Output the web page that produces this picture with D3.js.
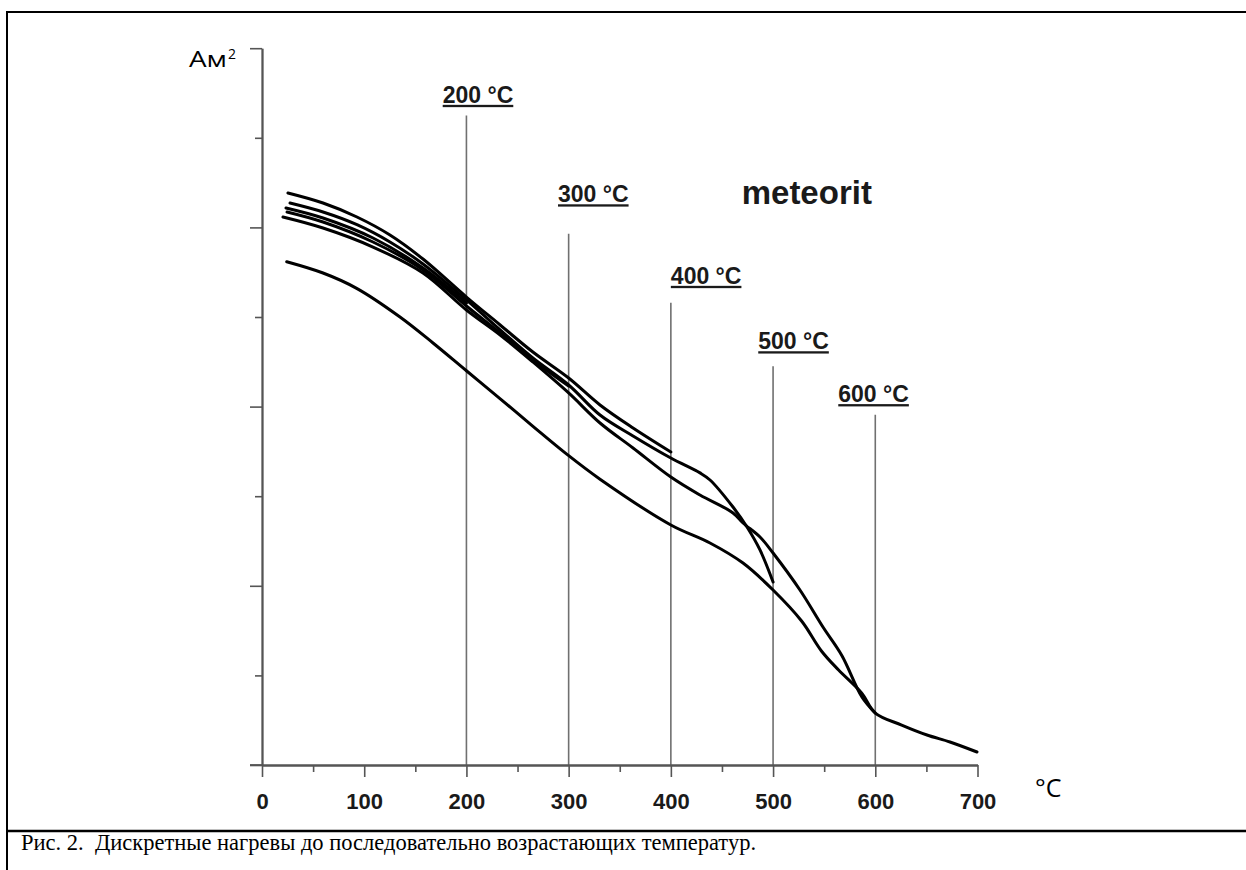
<!DOCTYPE html>
<html>
<head>
<meta charset="utf-8">
<script src="https://cdn.jsdelivr.net/npm/d3@7"></script>
<style>
  html, body { margin: 0; padding: 0; background: #fff; }
  svg { display: block; }
</style>
</head>
<body>
<svg id="chart"></svg>
<script>
// discrete heating curves, magnetisation vs temperature
// x = °C, y = axis units (8 tick steps, no numbers on the axis)

const xMajor = [0, 100, 200, 300, 400, 500, 600, 700];
const xMinor = [50, 150, 250, 350, 450, 550, 650];
const yMajor = [0, 2, 4, 6, 8];
const yMinor = [1, 3, 5, 7];

// heating steps: marker line, where it stops at the top, label anchor (left, baseline)
const marks      = [200, 300, 400, 500, 600];
const markTop    = [7.25, 5.93, 5.16, 4.45, 3.91];
const markLabelX = [176.8, 289.6, 400, 485.5, 563.8];
const markLabelY = [7.39, 6.28, 5.37, 4.64, 4.05];

// [temperature, value]
const run200 = [[23.5,6.217],[59.7,6.105],[108.6,5.882],[157.5,5.547],[200,5.156]];
const run300 = [[24.5,6.172],[59.7,6.060],[108.6,5.837],[157.5,5.525],[200,5.123],
                [233,4.821],[265,4.520],[300,4.230]];
const run400 = [[25.4,6.384],[59.7,6.272],[92.9,6.116],[125.2,5.915],[157.5,5.647],
                [200,5.223],[233,4.911],[265,4.609],[300,4.319],[330.7,4.018],
                [363,3.761],[400,3.493]];
const run500 = [[27.4,6.272],[59.7,6.172],[92.9,6.030],[125.2,5.837],[157.5,5.592],
                [200,5.190],[233,4.855],[265,4.542],[300,4.241],[330.7,3.906],
                [363,3.672],[400,3.426],[428.5,3.260],[438.3,3.181],[460.8,2.879],
                [474.5,2.656],[487.2,2.400],[500,2.042]];
const run600 = [[20.5,6.116],[59.7,5.993],[108.6,5.781],[157.5,5.491],[200,5.078],
                [233,4.799],[265,4.498],[300,4.152],[330.7,3.817],[363,3.538],
                [400,3.214],[428.5,3.013],[460.8,2.813],[470.6,2.701],[487.2,2.545],
                [500,2.366],[526.3,1.953],[548.8,1.540],[567.4,1.220],[586.9,0.760],
                [600,0.580]];
const run700 = [[24.2,5.617],[59.7,5.491],[92.6,5.320],[135,5.000],[167.3,4.710],
                [200,4.400],[232.8,4.090],[265.1,3.780],[298.1,3.470],[330.7,3.190],
                [400,2.679],[438.3,2.478],[470.6,2.254],[500,1.953],[527.9,1.607],
                [547.5,1.270],[564.1,1.060],[586.6,0.804],[600,0.580],[625.8,0.446],
                [650.6,0.335],[673.1,0.257],[699.5,0.145]];
const runs = [run200, run300, run400, run500, run600, run700];

const W = 1246, H = 870;
const svg = d3.select('#chart').attr('width', W).attr('height', H);

const x = d3.scaleLinear().domain([0, 700]).range([262, 977.5]);
const y = d3.scaleLinear().domain([0, 8]).range([765, 48.2]);

// ── frame ────────────────────────────────────────────────────────────────
svg.append('line').attr('x1', 6).attr('x2', W).attr('y1', 12).attr('y2', 12)
    .attr('stroke', '#000').attr('stroke-width', 2.2);
svg.append('line').attr('x1', 7).attr('x2', 7).attr('y1', 11).attr('y2', H)
    .attr('stroke', '#000').attr('stroke-width', 2);
svg.append('line').attr('x1', 6).attr('x2', W).attr('y1', 831).attr('y2', 831)
    .attr('stroke', '#000').attr('stroke-width', 2.4);

// ── heating step markers ─────────────────────────────────────────────────
svg.selectAll('.mark')
    .data(marks)
    .join('line')
    .attr('class', 'mark')
    .attr('x1', d => x(d)).attr('x2', d => x(d))
    .attr('y1', (d, i) => y(markTop[i])).attr('y2', y(0))
    .attr('stroke', '#707070').attr('stroke-width', 1.6);

svg.selectAll('.mark-label')
    .data(marks)
    .join('text')
    .attr('class', 'mark-label')
    .attr('x', (d, i) => x(markLabelX[i]))
    .attr('y', (d, i) => y(markLabelY[i]))
    .attr('font-family', 'Liberation Sans, Arial, sans-serif')
    .attr('font-weight', 'bold')
    .attr('font-size', '23px')
    .attr('fill', '#1a1a1a')
    .style('text-decoration', 'underline')
    .text(d => `${d} °C`);

// ── axes ─────────────────────────────────────────────────────────────────
function styleAxis(g) {
    g.select('.domain').attr('stroke', '#555').attr('stroke-width', 1.8);
    g.selectAll('.tick line').attr('stroke', '#555').attr('stroke-width', 1.6);
}

svg.append('g')
    .attr('transform', `translate(0,${y(0)})`)
    .call(d3.axisBottom(x).tickValues(xMinor).tickSize(7).tickSizeOuter(0).tickFormat(''))
    .call(styleAxis);

svg.append('g')
    .attr('transform', `translate(0,${y(0)})`)
    .call(d3.axisBottom(x).tickValues(xMajor).tickSize(12).tickSizeOuter(0).tickPadding(16))
    .call(styleAxis)
    .call(g => g.selectAll('.tick text')
        .attr('font-family', 'Liberation Sans, Arial, sans-serif')
        .attr('font-weight', 'bold')
        .attr('font-size', '22px')
        .attr('fill', '#1a1a1a'));

svg.append('g')
    .attr('transform', `translate(${x(0)},0)`)
    .call(d3.axisLeft(y).tickValues(yMinor).tickSize(7).tickSizeOuter(0).tickFormat(''))
    .call(styleAxis);

svg.append('g')
    .attr('transform', `translate(${x(0)},0)`)
    .call(d3.axisLeft(y).tickValues(yMajor).tickSize(12).tickSizeOuter(0).tickFormat(''))
    .call(styleAxis);

// x axis runs a little left of the y axis
svg.append('line')
    .attr('x1', x(0) - 12).attr('x2', x(0)).attr('y1', y(0)).attr('y2', y(0))
    .attr('stroke', '#555').attr('stroke-width', 1.8);

// ── curves ───────────────────────────────────────────────────────────────
const line = d3.line()
    .x(d => x(d[0]))
    .y(d => y(d[1]))
    .curve(d3.curveCatmullRom.alpha(0.5));

svg.selectAll('.run')
    .data(runs)
    .join('path')
    .attr('class', 'run')
    .attr('d', line)
    .attr('fill', 'none')
    .attr('stroke', '#000')
    .attr('stroke-width', 3)
    .attr('stroke-linecap', 'round')
    .attr('stroke-linejoin', 'round');

// ── texts ────────────────────────────────────────────────────────────────
svg.append('text')
    .attr('x', x(469.3)).attr('y', y(6.26))
    .attr('font-family', 'Liberation Sans, Arial, sans-serif')
    .attr('font-weight', 'bold')
    .attr('font-size', '33px')
    .attr('fill', '#1a1a1a')
    .text('meteorit');

svg.append('text')
    .attr('x', 189).attr('y', 66.5)
    .attr('font-family', 'Open Sans, Noto Sans, sans-serif')
    .attr('font-size', '22px')
    .attr('textLength', 38).attr('lengthAdjust', 'spacingAndGlyphs')
    .attr('fill', '#000')
    .text('Ам');
svg.append('text')
    .attr('x', 228).attr('y', 59)
    .attr('font-family', 'Open Sans, Noto Sans, sans-serif')
    .attr('font-size', '14px')
    .attr('fill', '#000')
    .text('2');

svg.append('text')
    .attr('x', 1035).attr('y', 797)
    .attr('font-family', 'Open Sans, Noto Sans, sans-serif')
    .attr('font-size', '25px')
    .attr('fill', '#000')
    .text('°C');

svg.append('text')
    .attr('x', 21).attr('y', 850)
    .attr('font-family', 'Liberation Serif, Times New Roman, serif')
    .attr('font-size', '22.5px')
    .attr('fill', '#000')
    .style('white-space', 'pre')
    .text('Рис. 2.  Дискретные нагревы до последовательно возрастающих температур.');
</script>
</body>
</html>
